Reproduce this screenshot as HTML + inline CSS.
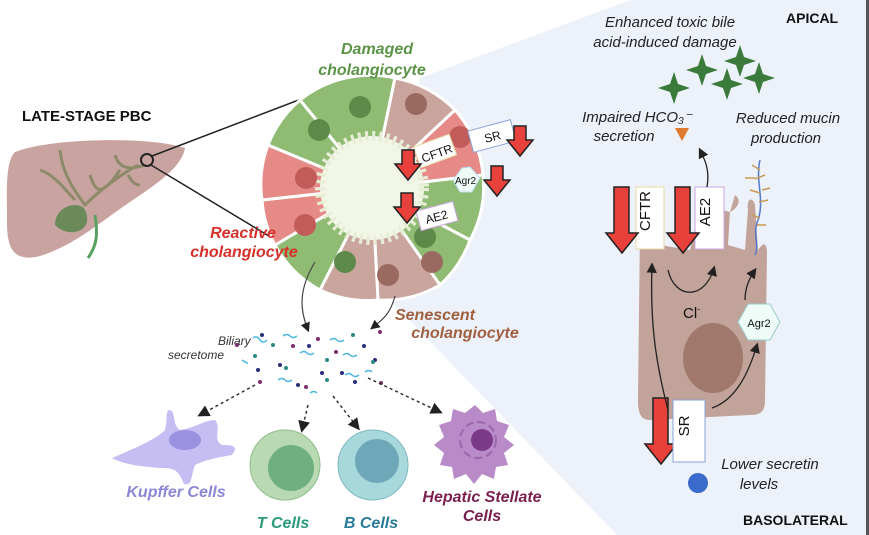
<!DOCTYPE html>
<html><head><meta charset="utf-8"><style>
html,body{margin:0;padding:0;background:#fff;}
svg{display:block;font-family:"Liberation Sans",sans-serif;}
.it{font-style:italic;font-weight:bold;}
</style></head><body>
<svg width="869" height="535" viewBox="0 0 869 535" xmlns="http://www.w3.org/2000/svg">
<defs>
<marker id="ah" markerWidth="8" markerHeight="8" refX="6" refY="4" orient="auto"><path d="M0,0 L8,4 L0,8 Z" fill="#222"/></marker>
<g id="dn"><path d="M-6,-22 h12 v14 h7 l-13,16 l-13,-16 h7 z" fill="#e8403a" stroke="#222" stroke-width="1.5"/></g>
</defs>
<polygon points="630,0 869,0 869,535 617,535 380,290 420,78" fill="#edf2fa"/>
<rect x="866" y="0" width="3" height="535" fill="#555"/>

<text x="22" y="121" font-size="15" font-weight="bold" fill="#111">LATE-STAGE PBC</text>
<path d="M15,152 C50,138 150,136 185,148 C182,166 160,182 130,202 C100,222 75,245 40,256 C12,263 7,246 7,222 C7,192 5,162 15,152 Z" fill="#c9a3a0"/>
<path d="M40,170 C55,175 65,190 75,200 M60,150 C62,170 70,185 85,205 C100,190 120,175 138,165 M90,175 C95,190 100,200 120,170 M115,155 C118,165 125,172 145,165 M128,175 C132,182 135,185 140,185" stroke="#8d8a6a" stroke-width="3" fill="none"/>
<path d="M55,225 C55,205 80,200 85,210 C95,230 70,240 55,225 Z" fill="#6a8a5a"/>
<path d="M95,215 C98,235 97,245 88,258" stroke="#5aa060" stroke-width="3" fill="none"/>
<circle cx="147" cy="160" r="6" fill="none" stroke="#222" stroke-width="2"/>
<line x1="152" y1="156" x2="330" y2="88" stroke="#222" stroke-width="1.5"/>
<line x1="151" y1="165" x2="312" y2="262" stroke="#222" stroke-width="1.5"/>

<circle cx="372" cy="188" r="112" fill="#eef3e0"/>
<g stroke="#fff" stroke-width="3">
<path d="M372,188 L300,100 A112,112 0 0 1 395,78 Z" fill="#8fbb72"/>
<path d="M372,188 L395,78 A112,112 0 0 1 455,110 Z" fill="#c9a59d"/>
<path d="M372,188 L455,110 A112,112 0 0 1 483,175 Z" fill="#e58a86"/>
<path d="M372,188 L483,175 A112,112 0 0 1 470,240 Z" fill="#8fbb72"/>
<path d="M372,188 L470,240 A112,112 0 0 1 440,285 Z" fill="#8fbb72"/>
<path d="M372,188 L440,285 A112,112 0 0 1 378,300 Z" fill="#c9a59d"/>
<path d="M372,188 L378,300 A112,112 0 0 1 320,290 Z" fill="#c9a59d"/>
<path d="M372,188 L320,290 A112,112 0 0 1 275,245 Z" fill="#8fbb72"/>
<path d="M372,188 L275,245 A112,112 0 0 1 262,200 Z" fill="#e58a86"/>
<path d="M372,188 L262,200 A112,112 0 0 1 268,145 Z" fill="#e58a86"/>
<path d="M372,188 L268,145 A112,112 0 0 1 300,100 Z" fill="#8fbb72"/>
</g>
<circle cx="372" cy="188" r="52" fill="#f2f6e6" stroke="#e8eed6" stroke-width="10" stroke-dasharray="3 4"/>
<g fill="#5d8a48"><circle cx="360" cy="107" r="11"/><circle cx="319" cy="130" r="11"/><circle cx="425" cy="237" r="11"/><circle cx="345" cy="262" r="11"/></g>
<g fill="#9a6a60"><circle cx="416" cy="104" r="11"/><circle cx="388" cy="275" r="11"/><circle cx="432" cy="262" r="11"/></g>
<g fill="#c25c5a"><circle cx="460" cy="137" r="11"/><circle cx="306" cy="178" r="11"/><circle cx="305" cy="225" r="11"/></g>
<rect x="416" y="140" width="38" height="22" fill="#fff" stroke="#e8d8a0" transform="rotate(-20 435 151)"/>
<text x="420" y="158" font-size="12" fill="#111" transform="rotate(-20 435 151)">CFTR</text>
<rect x="470" y="125" width="44" height="22" fill="#fff" stroke="#8aa3d8" transform="rotate(-15 492 136)"/>
<text x="484" y="141" font-size="12" fill="#111" transform="rotate(-15 492 136)">SR</text>
<polygon points="462,168 470,167 480,178 472,192 460,192 453,180" fill="#eefbf6" stroke="#bde" />
<text x="455" y="184" font-size="10" fill="#111">Agr2</text>
<rect x="418" y="206" width="38" height="20" fill="#fff" stroke="#c9a6e0" transform="rotate(-15 437 216)"/>
<text x="425" y="221" font-size="12" fill="#111" transform="rotate(-15 437 216)">AE2</text>
<use href="#dn" x="408" y="172"/><use href="#dn" x="407" y="215"/><use href="#dn" x="520" y="148"/><use href="#dn" x="497" y="188"/>

<text x="377" y="54" text-anchor="middle" font-size="16" class="it" fill="#5b9447">Damaged</text>
<text x="372" y="75" text-anchor="middle" font-size="16" class="it" fill="#5b9447">cholangiocyte</text>
<text x="243" y="238" text-anchor="middle" font-size="16" class="it" fill="#d7302b">Reactive</text>
<text x="244" y="257" text-anchor="middle" font-size="16" class="it" fill="#d7302b">cholangiocyte</text>
<text x="435" y="320" text-anchor="middle" font-size="16" class="it" fill="#a06040">Senescent</text>
<text x="465" y="338" text-anchor="middle" font-size="16" class="it" fill="#a06040">cholangiocyte</text>

<path d="M315,262 C298,290 300,310 308,330" stroke="#444" stroke-width="1.2" fill="none" marker-end="url(#ah)"/>
<path d="M395,296 C390,315 382,320 372,328" stroke="#444" stroke-width="1.2" fill="none" marker-end="url(#ah)"/>

<text x="218" y="345" font-size="12" font-style="italic" fill="#333">Biliary</text>
<text x="168" y="359" font-size="12" font-style="italic" fill="#333">secretome</text>
<g fill="#2a2f7a"><circle cx="262" cy="335" r="2"/><circle cx="309" cy="346" r="2"/><circle cx="280" cy="365" r="2"/><circle cx="322" cy="373" r="2"/><circle cx="364" cy="346" r="2"/><circle cx="342" cy="373" r="2"/><circle cx="298" cy="385" r="2"/><circle cx="375" cy="360" r="2"/><circle cx="355" cy="382" r="2"/><circle cx="258" cy="370" r="2"/></g>
<g fill="#2a8a80"><circle cx="273" cy="345" r="2"/><circle cx="255" cy="356" r="2"/><circle cx="286" cy="368" r="2"/><circle cx="353" cy="335" r="2"/><circle cx="327" cy="360" r="2"/><circle cx="373" cy="362" r="2"/><circle cx="327" cy="380" r="2"/></g>
<g fill="#7a2e6a"><circle cx="237" cy="345" r="2"/><circle cx="293" cy="346" r="2"/><circle cx="318" cy="339" r="2"/><circle cx="336" cy="352" r="2"/><circle cx="260" cy="382" r="2"/><circle cx="306" cy="387" r="2"/><circle cx="381" cy="383" r="2"/><circle cx="380" cy="332" r="2"/></g>
<g stroke="#4cb8e0" stroke-width="1.5" fill="none"><path d="M253,338 q4,-3 7,2 q3,4 7,0"/><path d="M283,336 q4,-3 7,0 q3,3 7,0"/><path d="M300,353 q4,-3 7,0 q3,3 7,0"/><path d="M330,340 q4,-3 7,0 q3,3 7,0"/><path d="M343,355 q4,-3 7,0 q3,3 7,0"/><path d="M278,380 q4,-3 7,0 q3,3 7,0"/><path d="M345,375 q4,-3 7,0 q3,3 7,0"/><path d="M365,372 q4,-3 7,0"/><path d="M310,393 q4,-3 7,0"/><path d="M242,360 q4,3 6,3"/></g>

<g stroke="#333" stroke-width="1.5" stroke-dasharray="3 3" fill="none">
<line x1="255" y1="385" x2="200" y2="415" marker-end="url(#ah)"/>
<line x1="308" y1="405" x2="302" y2="430" marker-end="url(#ah)"/>
<line x1="333" y1="396" x2="358" y2="428" marker-end="url(#ah)"/>
<line x1="368" y1="378" x2="440" y2="412" marker-end="url(#ah)"/>
</g>

<path d="M112,458 C135,448 155,440 165,430 C168,418 165,410 170,410 C176,412 172,425 180,430 C195,428 205,420 215,420 C222,428 212,440 222,445 C230,445 240,445 232,455 C215,458 205,460 195,465 C190,480 192,486 184,484 C178,470 175,468 160,468 C140,466 125,465 112,458 Z" fill="#c6bdf2"/>
<ellipse cx="185" cy="440" rx="16" ry="10" fill="#9a92e0"/>
<text x="176" y="497" text-anchor="middle" font-size="16" class="it" fill="#8c86d6">Kupffer Cells</text>
<circle cx="285" cy="465" r="35" fill="#b8d9b2" stroke="#8fbc8c"/>
<circle cx="291" cy="468" r="23" fill="#6fb07f"/>
<text x="283" y="528" text-anchor="middle" font-size="16" class="it" fill="#2a9a7a">T Cells</text>
<circle cx="373" cy="465" r="35" fill="#a7d8dc" stroke="#7fb8c0"/>
<circle cx="377" cy="461" r="22" fill="#6ea8b8"/>
<text x="371" y="528" text-anchor="middle" font-size="16" class="it" fill="#2a7a9a">B Cells</text>
<path d="M475,405 l8,8 l12,-4 l2,12 l12,4 l-5,12 l10,8 l-10,8 l4,12 l-12,2 l-2,12 l-12,-5 l-8,10 l-8,-10 l-12,5 l-2,-12 l-12,-2 l4,-12 l-10,-8 l10,-8 l-5,-12 l12,-4 l2,-12 l12,4 z" fill="#b88ac8"/>
<circle cx="478" cy="440" r="18" fill="none" stroke="#9a66ae" stroke-width="2" stroke-dasharray="8 4"/>
<circle cx="482" cy="440" r="11" fill="#7a3a88"/>
<text x="482" y="502" text-anchor="middle" font-size="16" class="it" fill="#7a2050">Hepatic Stellate</text>
<text x="482" y="521" text-anchor="middle" font-size="16" class="it" fill="#7a2050">Cells</text>

<text x="786" y="23" font-size="14" font-weight="bold" fill="#111">APICAL</text>
<text x="670" y="27" text-anchor="middle" font-size="15" font-style="italic" fill="#222">Enhanced toxic bile</text>
<text x="665" y="47" text-anchor="middle" font-size="15" font-style="italic" fill="#222">acid-induced damage</text>
<g fill="#3a7a3a">
<path d="M670,84 l4,-12 l4,12 l12,4 l-12,4 l-4,12 l-4,-12 l-12,-4 z"/>
<path d="M698,66 l4,-12 l4,12 l12,4 l-12,4 l-4,12 l-4,-12 l-12,-4 z"/>
<path d="M723,80 l4,-12 l4,12 l12,4 l-12,4 l-4,12 l-4,-12 l-12,-4 z"/>
<path d="M736,57 l4,-12 l4,12 l12,4 l-12,4 l-4,12 l-4,-12 l-12,-4 z"/>
<path d="M755,74 l4,-12 l4,12 l12,4 l-12,4 l-4,12 l-4,-12 l-12,-4 z"/>
</g>
<text x="637" y="122" text-anchor="middle" font-size="15" font-style="italic" fill="#222">Impaired HCO₃⁻</text>
<text x="624" y="141" text-anchor="middle" font-size="15" font-style="italic" fill="#222">secretion</text>
<polygon points="675,128 689,128 682,141" fill="#e07a30"/>
<text x="788" y="123" text-anchor="middle" font-size="15" font-style="italic" fill="#222">Reduced mucin</text>
<text x="786" y="143" text-anchor="middle" font-size="15" font-style="italic" fill="#222">production</text>

<path d="M640,225 C640,210 650,205 655,215 L660,245 L690,250 L700,205 L730,212 L735,195 C742,200 738,208 730,212 L728,245 L745,250 L748,210 C746,200 752,195 755,205 L758,250 C762,245 765,240 767,250 L765,400 C765,412 760,415 750,415 L650,420 C640,420 638,412 638,400 Z" fill="#c2a399"/>
<ellipse cx="713" cy="358" rx="30" ry="35" fill="#a0786c"/>
<path d="M760,160 C755,180 765,200 758,220 C752,235 760,245 755,255" stroke="#5577cc" stroke-width="1.5" fill="none"/>
<path d="M752,165 l8,5 M765,175 l-10,4 M750,190 l10,3 M768,200 l-9,2 M752,215 l8,3 M766,225 l-9,0 M745,178 l10,0 M770,188 l-8,2" stroke="#c89a50" stroke-width="1.5"/>

<rect x="636" y="187" width="28" height="62" fill="#fff" stroke="#e8d8a0"/>
<text x="657" y="218" text-anchor="middle" font-size="15" fill="#111" transform="rotate(-90 650 218)">CFTR</text>
<rect x="695" y="187" width="29" height="62" fill="#fff" stroke="#c9a6e0"/>
<text x="716" y="218" text-anchor="middle" font-size="15" fill="#111" transform="rotate(-90 710 218)">AE2</text>
<path d="M614,187 h15 v46 h9 l-16,20 l-16,-20 h8 z" fill="#e8403a" stroke="#222" stroke-width="1.5"/>
<path d="M675,187 h15 v46 h9 l-16,20 l-16,-20 h8 z" fill="#e8403a" stroke="#222" stroke-width="1.5"/>
<path d="M653,398 h15 v46 h9 l-16,20 l-16,-20 h8 z" fill="#e8403a" stroke="#222" stroke-width="1.5"/>
<rect x="673" y="400" width="32" height="62" fill="#fff" stroke="#8aa3d8"/>
<text x="694" y="431" text-anchor="middle" font-size="15" fill="#111" transform="rotate(-90 689 431)">SR</text>

<polygon points="748,304 770,304 780,322 770,340 748,340 738,322" fill="#eefbf6" stroke="#9cc"/>
<text x="759" y="327" text-anchor="middle" font-size="11" fill="#111">Agr2</text>

<g stroke="#222" stroke-width="1.3" fill="none">
<path d="M668,410 C655,360 650,320 652,265" marker-end="url(#ah)"/>
<path d="M668,270 C675,300 705,300 714,268" marker-end="url(#ah)"/>
<path d="M712,408 C735,400 748,375 757,345" marker-end="url(#ah)"/>
<path d="M745,300 C745,290 748,280 755,270" marker-end="url(#ah)"/>
<path d="M707,187 C710,170 705,160 700,150" marker-end="url(#ah)"/>
</g>
<text x="683" y="318" font-size="15" fill="#111">Cl<tspan font-size="9" dy="-6">-</tspan></text>

<circle cx="698" cy="483" r="10" fill="#3a6acc"/>
<text x="770" y="469" text-anchor="middle" font-size="15" font-style="italic" fill="#222">Lower secretin</text>
<text x="759" y="489" text-anchor="middle" font-size="15" font-style="italic" fill="#222">levels</text>
<text x="743" y="525" font-size="14" font-weight="bold" fill="#111">BASOLATERAL</text>
</svg>
</body></html>
